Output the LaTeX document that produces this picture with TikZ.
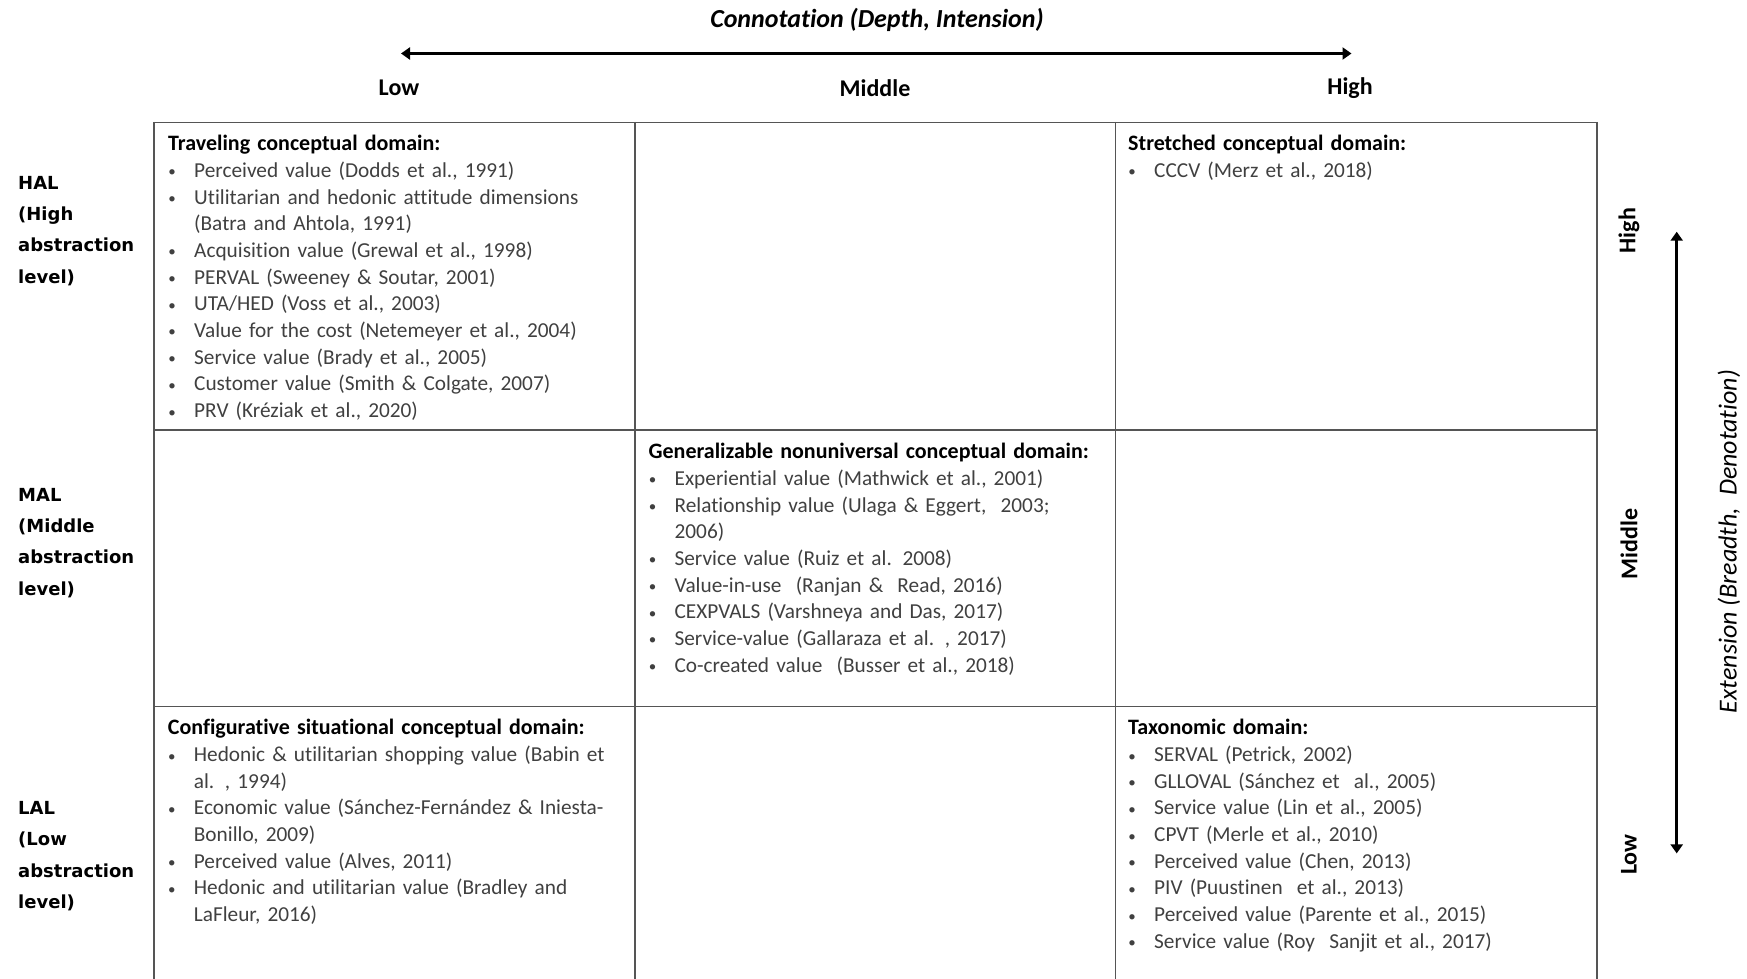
\documentclass[tikz,border=0pt]{standalone}
\usepackage{fontspec}
\setmainfont{Carlito}[Ligatures=CommonOff]
\newfontfamily\labelfont{DejaVu Sans}
\usetikzlibrary{arrows.meta}
\setlength{\parindent}{0pt}

\definecolor{itemgray}{RGB}{64,64,64}
\definecolor{rulegray}{RGB}{85,85,85}

% bullet list helpers for the cells
\newlength\bulletpos \setlength\bulletpos{4pt}
\newlength\textpos   \setlength\textpos{26pt}
\newcommand\cellfont{\fontsize{21.3}{26.67}\selectfont}
\newcommand\rowfont{\labelfont\bfseries\fontsize{18}{31.2}\selectfont}
\newcommand\smallbullet{\raisebox{0.5pt}{\fontsize{15}{15}\selectfont\textbullet}}
\newcommand\headline[1]{\noindent\rule{0pt}{20pt}{\color{black}\bfseries\fontsize{22}{26.67}\selectfont #1}\par}
\newcommand\itm[1]{\hangindent=\textpos\hangafter=1\noindent
  \hspace*{\bulletpos}\makebox[0pt]{\smallbullet}\hspace*{\dimexpr\textpos-\bulletpos\relax}#1\par}

\tikzset{
  cell/.style={anchor=north west, inner sep=0pt, text width=470pt, align=left,
    text=itemgray, font=\cellfont},
  rowlab/.style={anchor=north west, inner sep=0pt, text width=130pt, align=left,
    font=\rowfont},
  axislab/.style={inner sep=0pt, font=\bfseries\fontsize{24}{28}\selectfont},
  gridline/.style={draw=rulegray, line width=1.6pt},
  axisarrow/.style={line width=3.5pt, {Triangle[length=9pt,width=12pt]}-{Triangle[length=9pt,width=12pt]}}
}

\begin{document}
\begin{tikzpicture}[x=1pt, y=-1pt]
\useasboundingbox (0,0) rectangle (1747,979);

% horizontal axis: connotation
\node[inner sep=0pt, font=\bfseries\itshape\fontsize{26}{30}\selectfont] (conn) at (877,20) {Connotation (Depth, Intension)};
\coordinate (cleft) at (401,53.5);
\coordinate (cright) at (1351.5,53.5);
\draw[axisarrow] (cleft) -- (cright);
\node[axislab] (clow) at (399,88) {Low};
\node[axislab] (cmid) at (875,88) {Middle};
\node[axislab] (chigh) at (1350,88) {High};

% table grid (runs past the lower edge)
\draw[gridline] (153.8,122.6) -- (1596.7,122.6);
\draw[gridline] (153.8,430) -- (1596.7,430);
\draw[gridline] (153.8,706.3) -- (1596.7,706.3);
\foreach \x in {153.8,635.1,1115.3,1596.7}
  \draw[gridline] (\x,121.8) -- (\x,985);

% row labels
\node[rowlab] (hal) at (18,167.3) {\noindent\rule{0pt}{22pt}HAL\par(High\par abstraction\par level)};
\node[rowlab] (mal) at (18,479.3) {\noindent\rule{0pt}{22pt}MAL\par(Middle\par abstraction\par level)};
\node[rowlab] (lal) at (18,792.4) {\noindent\rule{0pt}{22pt}LAL\par(Low\par abstraction\par level)};

% cells
\node[cell] (travel) at (168,130.6) {%
  \headline{Traveling conceptual domain:}
  \itm{Perceived value (Dodds et al., 1991)}
  \itm{Utilitarian and hedonic attitude dimensions\newline (Batra and Ahtola, 1991)}
  \itm{Acquisition value (Grewal et al., 1998)}
  \itm{PERVAL (Sweeney \& Soutar, 2001)}
  \itm{UTA/HED (Voss et al., 2003)}
  \itm{Value for the cost (Netemeyer et al., 2004)}
  \itm{Service value (Brady et al., 2005)}
  \itm{Customer value (Smith \& Colgate, 2007)}
  \itm{PRV (Kréziak et al., 2020)}};

\node[cell] (stretch) at (1128,130.6) {%
  \headline{Stretched conceptual domain:}
  \itm{CCCV (Merz et al., 2018)}};

\node[cell] (general) at (648.4,438.6) {%
  \headline{Generalizable nonuniversal conceptual domain:}
  \itm{Experiential value (Mathwick et al., 2001)}
  \itm{Relationship value (Ulaga \& Eggert,~~2003;\newline 2006)}
  \itm{Service value (Ruiz et al. 2008)}
  \itm{Value-in-use~~(Ranjan \&~~Read, 2016)}
  \itm{CEXPVALS (Varshneya and Das, 2017)}
  \itm{Service-value (Gallaraza et al. , 2017)}
  \itm{Co-created value~~(Busser et al., 2018)}};

\node[cell] (config) at (167.7,714.7) {%
  \headline{Configurative situational conceptual domain:}
  \itm{Hedonic \& utilitarian shopping value (Babin et\newline al. , 1994)}
  \itm{Economic value (Sánchez-Fernández \& Iniesta-\newline Bonillo, 2009)}
  \itm{Perceived value (Alves, 2011)}
  \itm{Hedonic and utilitarian value (Bradley and\newline LaFleur, 2016)}};

\node[cell] (taxo) at (1128,714.7) {%
  \headline{Taxonomic domain:}
  \itm{SERVAL (Petrick, 2002)}
  \itm{GLLOVAL (Sánchez et~~al., 2005)}
  \itm{Service value (Lin et al., 2005)}
  \itm{CPVT (Merle et al., 2010)}
  \itm{Perceived value (Chen, 2013)}
  \itm{PIV (Puustinen~~et al., 2013)}
  \itm{Perceived value (Parente et al., 2015)}
  \itm{Service value (Roy~~Sanjit et al., 2017)}};

% vertical axis: extension
\node[axislab, rotate=90] (ehigh) at (1629,230.6) {High};
\node[axislab, rotate=90] (emid) at (1629,543.7) {Middle};
\node[axislab, rotate=90] (elow) at (1629,854.6) {Low};
\coordinate (etop) at (1676.7,231.7);
\coordinate (ebot) at (1676.7,853.4);
\draw[axisarrow, line width=3pt] (etop) -- (ebot);
\node[inner sep=0pt, rotate=90, font=\itshape\fontsize{26}{30}\selectfont] (ext) at (1729,541.5) {Extension (Breadth,~~Denotation)};
\end{tikzpicture}
\end{document}
